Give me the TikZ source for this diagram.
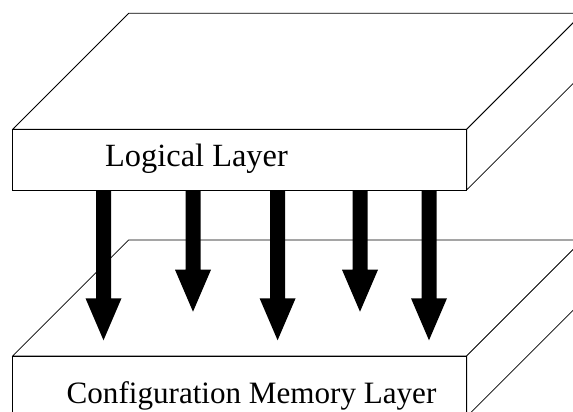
\documentclass[tikz,border=0pt]{standalone}
\usepackage{fontspec}
\setmainfont{Liberation Serif}
\begin{document}
\begin{tikzpicture}[x=1pt,y=-1pt,
  edge/.style={draw=black,line width=0.75pt,fill=white,line join=miter},
  bigarrow/.style={fill=black,draw=none},
  layertext/.style={anchor=base west,inner sep=0pt}]
\useasboundingbox (0,0) rectangle (573,412);
\clip (0,0) rectangle (573,412);
% slabs: front rect, top face, right face
\foreach \dy in {226.7,0}{
  \begin{scope}[yshift=-\dy pt]
    \path[edge] (128.7,13.3) -- (582.7,13.3) -- (466.7,129.3) -- (12.7,129.3) -- cycle;
    \path[edge] (466.7,129.3) -- (582.7,13.3) -- (582.7,74) -- (466.7,190) -- cycle;
    \path[edge] (12.7,129.3) rectangle (466.7,190);
  \end{scope}
}
\node[layertext,font=\fontsize{32.4}{38}\selectfont] (logical) at (105,166.7) {Logical Layer};
\node[layertext,font=\fontsize{31.1}{37}\selectfont] (config) at (66.5,403.3) {Configuration Memory Layer};
% arrows
\foreach \cx/\tip in {103.5/340.3, 193/311.7, 277.6/340.3, 360/311.7, 429/340.3}{
  \path[bigarrow] (\cx-7.5,190) -- (\cx+7.5,190) -- (\cx+7.5,\tip-42) -- (\cx+18,\tip-42)
     -- (\cx,\tip) -- (\cx-18,\tip-42) -- (\cx-7.5,\tip-42) -- cycle;
}
\end{tikzpicture}
\end{document}
